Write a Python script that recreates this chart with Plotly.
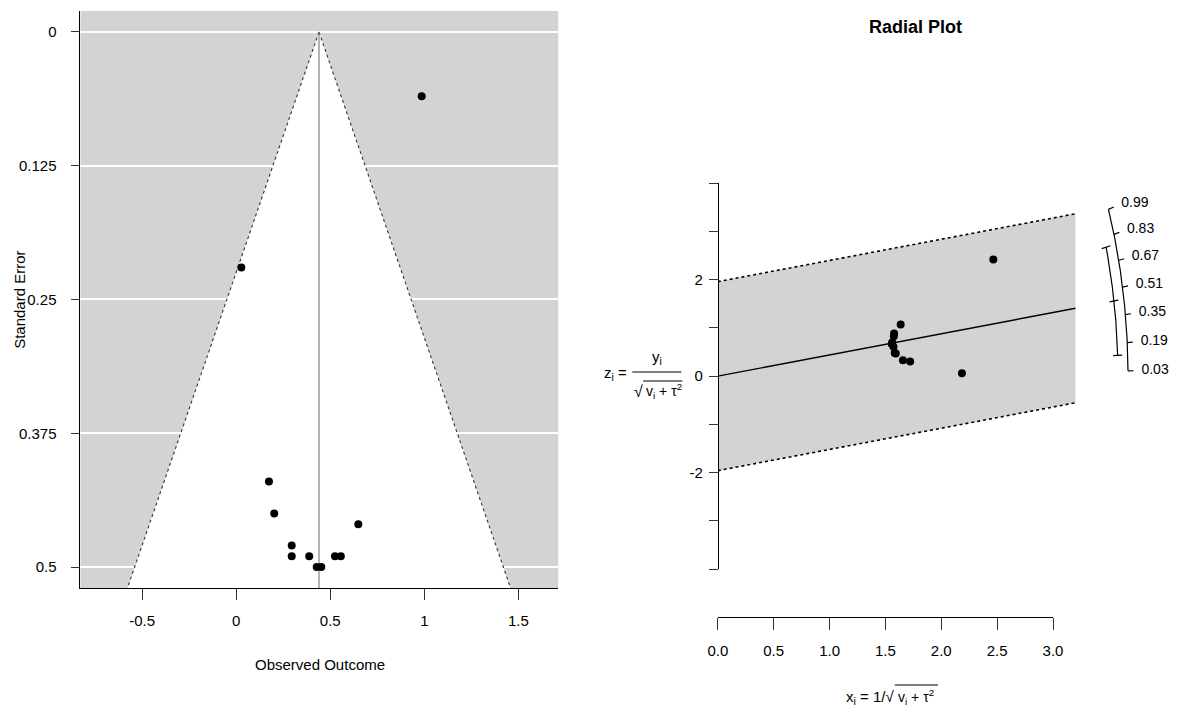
import numpy as np
import plotly.graph_objects as go

W, H = 1181, 711
FONT = "Liberation Sans, Arial, sans-serif"

# ---------------- Funnel plot data ----------------
obs_outcome = [0.986, 0.027, 0.174, 0.202, 0.295, 0.295, 0.388, 0.428, 0.452, 0.525, 0.556, 0.649]
std_error = [0.060, 0.220, 0.420, 0.450, 0.480, 0.490, 0.490, 0.500, 0.500, 0.490, 0.490, 0.460]
estimate = 0.44
z_crit = 1.96
funnel_xticks = [-0.5, 0, 0.5, 1, 1.5]
funnel_xlabels = ["-0.5", "0", "0.5", "1", "1.5"]
funnel_yticks = [0, 0.125, 0.25, 0.375, 0.5]
funnel_ylabels = ["0", "0.125", "0.25", "0.375", "0.5"]
funnel_xrange = [-0.828, 1.712]
funnel_yrange = [0.5199, -0.0196]

# ---------------- Radial plot data ----------------
radial_x = [2.465, 2.184, 1.636, 1.577, 1.575, 1.560, 1.556, 1.572, 1.583, 1.592, 1.656, 1.721]
radial_z = [2.42, 0.062, 1.07, 0.884, 0.83, 0.70, 0.665, 0.61, 0.482, 0.47, 0.331, 0.304]
radial_xmax = 3.2
radial_xticks = [0, 0.5, 1.0, 1.5, 2.0, 2.5, 3.0]
radial_xlabels = ["0.0", "0.5", "1.0", "1.5", "2.0", "2.5", "3.0"]
radial_yticks = [-4, -3, -2, -1, 0, 1, 2, 3, 4]
radial_ylabels = ["", "", "-2", "", "0", "", "2", "", ""]
arc_values = [0.99, 0.83, 0.67, 0.51, 0.35, 0.19, 0.03]
arc_labels = ["0.99", "0.83", "0.67", "0.51", "0.35", "0.19", "0.03"]
ci_lower, ci_upper = 0.12, 0.77

# arc geometry (ellipse in data units)
ARC_K = 3.09
R_OUT, R_IN, R_LAB = 3.67, 3.58, 3.79


def px_x(p):
    return p / W


def px_y(p):
    return 1 - p / H


def arc_pt(v, r):
    th = np.arctan(v / ARC_K)
    return r * np.cos(th), ARC_K * r * np.sin(th)


fig = go.Figure()

# ---------- funnel ----------
se_bot = funnel_yrange[0]
fig.add_trace(go.Scatter(
    x=[estimate - z_crit * se_bot, estimate, estimate + z_crit * se_bot, estimate - z_crit * se_bot],
    y=[se_bot, 0, se_bot, se_bot], fill="toself", fillcolor="white", mode="none",
    hoverinfo="skip", xaxis="x", yaxis="y"))
for sgn in (-1, 1):
    fig.add_trace(go.Scatter(
        x=[estimate, estimate + sgn * z_crit * se_bot], y=[0, se_bot], mode="lines",
        line=dict(color="#333333", width=1.1, dash="dot"), hoverinfo="skip", xaxis="x", yaxis="y"))
fig.add_trace(go.Scatter(
    x=[estimate, estimate], y=[0, se_bot], mode="lines",
    line=dict(color="#808080", width=1.2), hoverinfo="skip", xaxis="x", yaxis="y"))
fig.add_trace(go.Scatter(
    x=obs_outcome, y=std_error, mode="markers",
    marker=dict(color="black", size=8), xaxis="x", yaxis="y"))

# ---------- radial ----------
xb = [0, radial_xmax]
up = [z_crit + estimate * x for x in xb]
lo = [-z_crit + estimate * x for x in xb]
fig.add_trace(go.Scatter(
    x=[xb[0], xb[1], xb[1], xb[0], xb[0]], y=[lo[0], lo[1], up[1], up[0], lo[0]],
    fill="toself", fillcolor="#D3D3D3", mode="none", hoverinfo="skip", xaxis="x2", yaxis="y2"))
for yy in (up, lo):
    fig.add_trace(go.Scatter(x=xb, y=yy, mode="lines", line=dict(color="black", width=1.6, dash="dot"),
                             hoverinfo="skip", xaxis="x2", yaxis="y2"))
fig.add_trace(go.Scatter(x=xb, y=[estimate * x for x in xb], mode="lines",
                         line=dict(color="black", width=1.4), hoverinfo="skip", xaxis="x2", yaxis="y2"))
fig.add_trace(go.Scatter(x=radial_x, y=radial_z, mode="markers", marker=dict(color="black", size=8),
                         xaxis="x2", yaxis="y2"))

# outer arc
vv = np.linspace(min(arc_values), max(arc_values), 100)
ax, az = arc_pt(vv, R_OUT)
fig.add_trace(go.Scatter(x=ax, y=az, mode="lines", line=dict(color="black", width=1.2),
                         hoverinfo="skip", xaxis="x2", yaxis="y2"))
for v in arc_values:
    x0, z0 = arc_pt(v, R_OUT)
    x1, z1 = arc_pt(v, R_OUT + 0.05)
    fig.add_trace(go.Scatter(x=[x0, x1], y=[z0, z1], mode="lines", line=dict(color="black", width=1.2),
                             hoverinfo="skip", xaxis="x2", yaxis="y2"))
lx, lz = arc_pt(np.array(arc_values), R_LAB)
fig.add_trace(go.Scatter(x=lx, y=lz, mode="text", text=arc_labels, textposition="middle right",
                         textfont=dict(size=14, color="black", family=FONT), cliponaxis=False,
                         xaxis="x2", yaxis="y2"))
# inner (CI) arc
vv = np.linspace(ci_lower, ci_upper, 60)
ix, iz = arc_pt(vv, R_IN)
fig.add_trace(go.Scatter(x=ix, y=iz, mode="lines", line=dict(color="black", width=1.2),
                         hoverinfo="skip", xaxis="x2", yaxis="y2"))
for v in (ci_lower, estimate, ci_upper):
    x0, z0 = arc_pt(v, R_IN - 0.04)
    x1, z1 = arc_pt(v, R_IN + 0.04)
    fig.add_trace(go.Scatter(x=[x0, x1], y=[z0, z1], mode="lines", line=dict(color="black", width=1.2),
                             hoverinfo="skip", xaxis="x2", yaxis="y2"))

# empty trace so that the separate radial x axis gets drawn
fig.add_trace(go.Scatter(x=[None], y=[None], mode="markers", hoverinfo="skip", xaxis="x3", yaxis="y3"))

axis_common = dict(showgrid=False, zeroline=False, showline=True, linecolor="black", linewidth=1,
                   ticks="outside", tickcolor="#333333", tickwidth=1,
                   tickfont=dict(size=15, color="black", family=FONT))

fig.update_layout(
    width=W, height=H, margin=dict(l=0, r=0, t=0, b=0),
    paper_bgcolor="white", plot_bgcolor="rgba(0,0,0,0)", showlegend=False,
    font=dict(family=FONT, size=15, color="black"),
    xaxis=dict(domain=[px_x(71.7), px_x(557.7)], range=funnel_xrange, anchor="y",
               tickmode="array", tickvals=funnel_xticks, ticktext=funnel_xlabels, ticklen=11,
               ticklabelstandoff=8, **axis_common),
    yaxis=dict(domain=[px_y(588.3), px_y(11)], range=funnel_yrange, anchor="x",
               tickmode="array", tickvals=funnel_yticks, ticktext=funnel_ylabels, ticklen=8,
               ticklabelstandoff=12,
               **{**axis_common, "showgrid": True}, gridcolor="white", gridwidth=1.6),
    xaxis2=dict(domain=[px_x(720), 1], range=[0, (W - 720) / 113.7], anchor="y2", visible=False),
    yaxis2=dict(domain=[px_y(569), px_y(183.3)], range=[-4, 4], anchor="free", position=px_x(720),
                tickmode="array", tickvals=radial_yticks, ticktext=radial_ylabels, ticklen=9,
                ticklabelstandoff=3, **axis_common),
    xaxis3=dict(domain=[px_x(720), px_x(1061)], range=[0, 3], anchor="y3",
                tickmode="array", tickvals=radial_xticks, ticktext=radial_xlabels, ticklen=12,
                ticklabelstandoff=8, **axis_common),
    yaxis3=dict(domain=[px_y(617.3), px_y(607)], range=[0, 1], anchor="x3", visible=False),
)

# gray background of the funnel plot
fig.add_shape(type="rect", xref="x domain", yref="y domain", x0=0, x1=1, y0=0, y1=1,
              fillcolor="#D3D3D3", line=dict(width=0), layer="below")


def note(xp, yp, text, size=16, xanchor="center", angle=0):
    return dict(x=px_x(xp), y=px_y(yp), xref="paper", yref="paper", text=text, showarrow=False,
                font=dict(size=size, family=FONT, color="black"), xanchor=xanchor, yanchor="middle",
                textangle=angle)


ann = [
    note(315, 664, "Observed Outcome", 15),
    note(10, 300, "Standard Error", 15, angle=-90),
    note(921, 27, "<b>Radial Plot</b>", 18),
    # y label formula of radial plot
    note(630, 373, "z<sub>i</sub> =", 15, "right"),
    note(658, 357, "y<sub>i</sub>", 15),
    note(646, 391, "√", 16, "right"),
    note(645, 391, "v<sub>i</sub> + τ<sup>2</sup>", 14, "left"),
    # x label formula
    note(901, 697, "x<sub>i</sub> = 1/√", 15, "right"),
    note(901, 697, "v<sub>i</sub> + τ<sup>2</sup>", 14, "left"),
]
fig.update_layout(annotations=ann)

# fraction bar and radical overlines
for (x0, x1, y) in [(633, 683, 372), (644, 684, 381), (900, 944, 685)]:
    fig.add_shape(type="line", xref="paper", yref="paper", x0=px_x(x0), x1=px_x(x1),
                  y0=px_y(y), y1=px_y(y), line=dict(color="black", width=1))

fig.write_html("out.html", config={"displayModeBar": False},
               post_script="document.body.style.margin='0';document.body.style.overflow='hidden';")
